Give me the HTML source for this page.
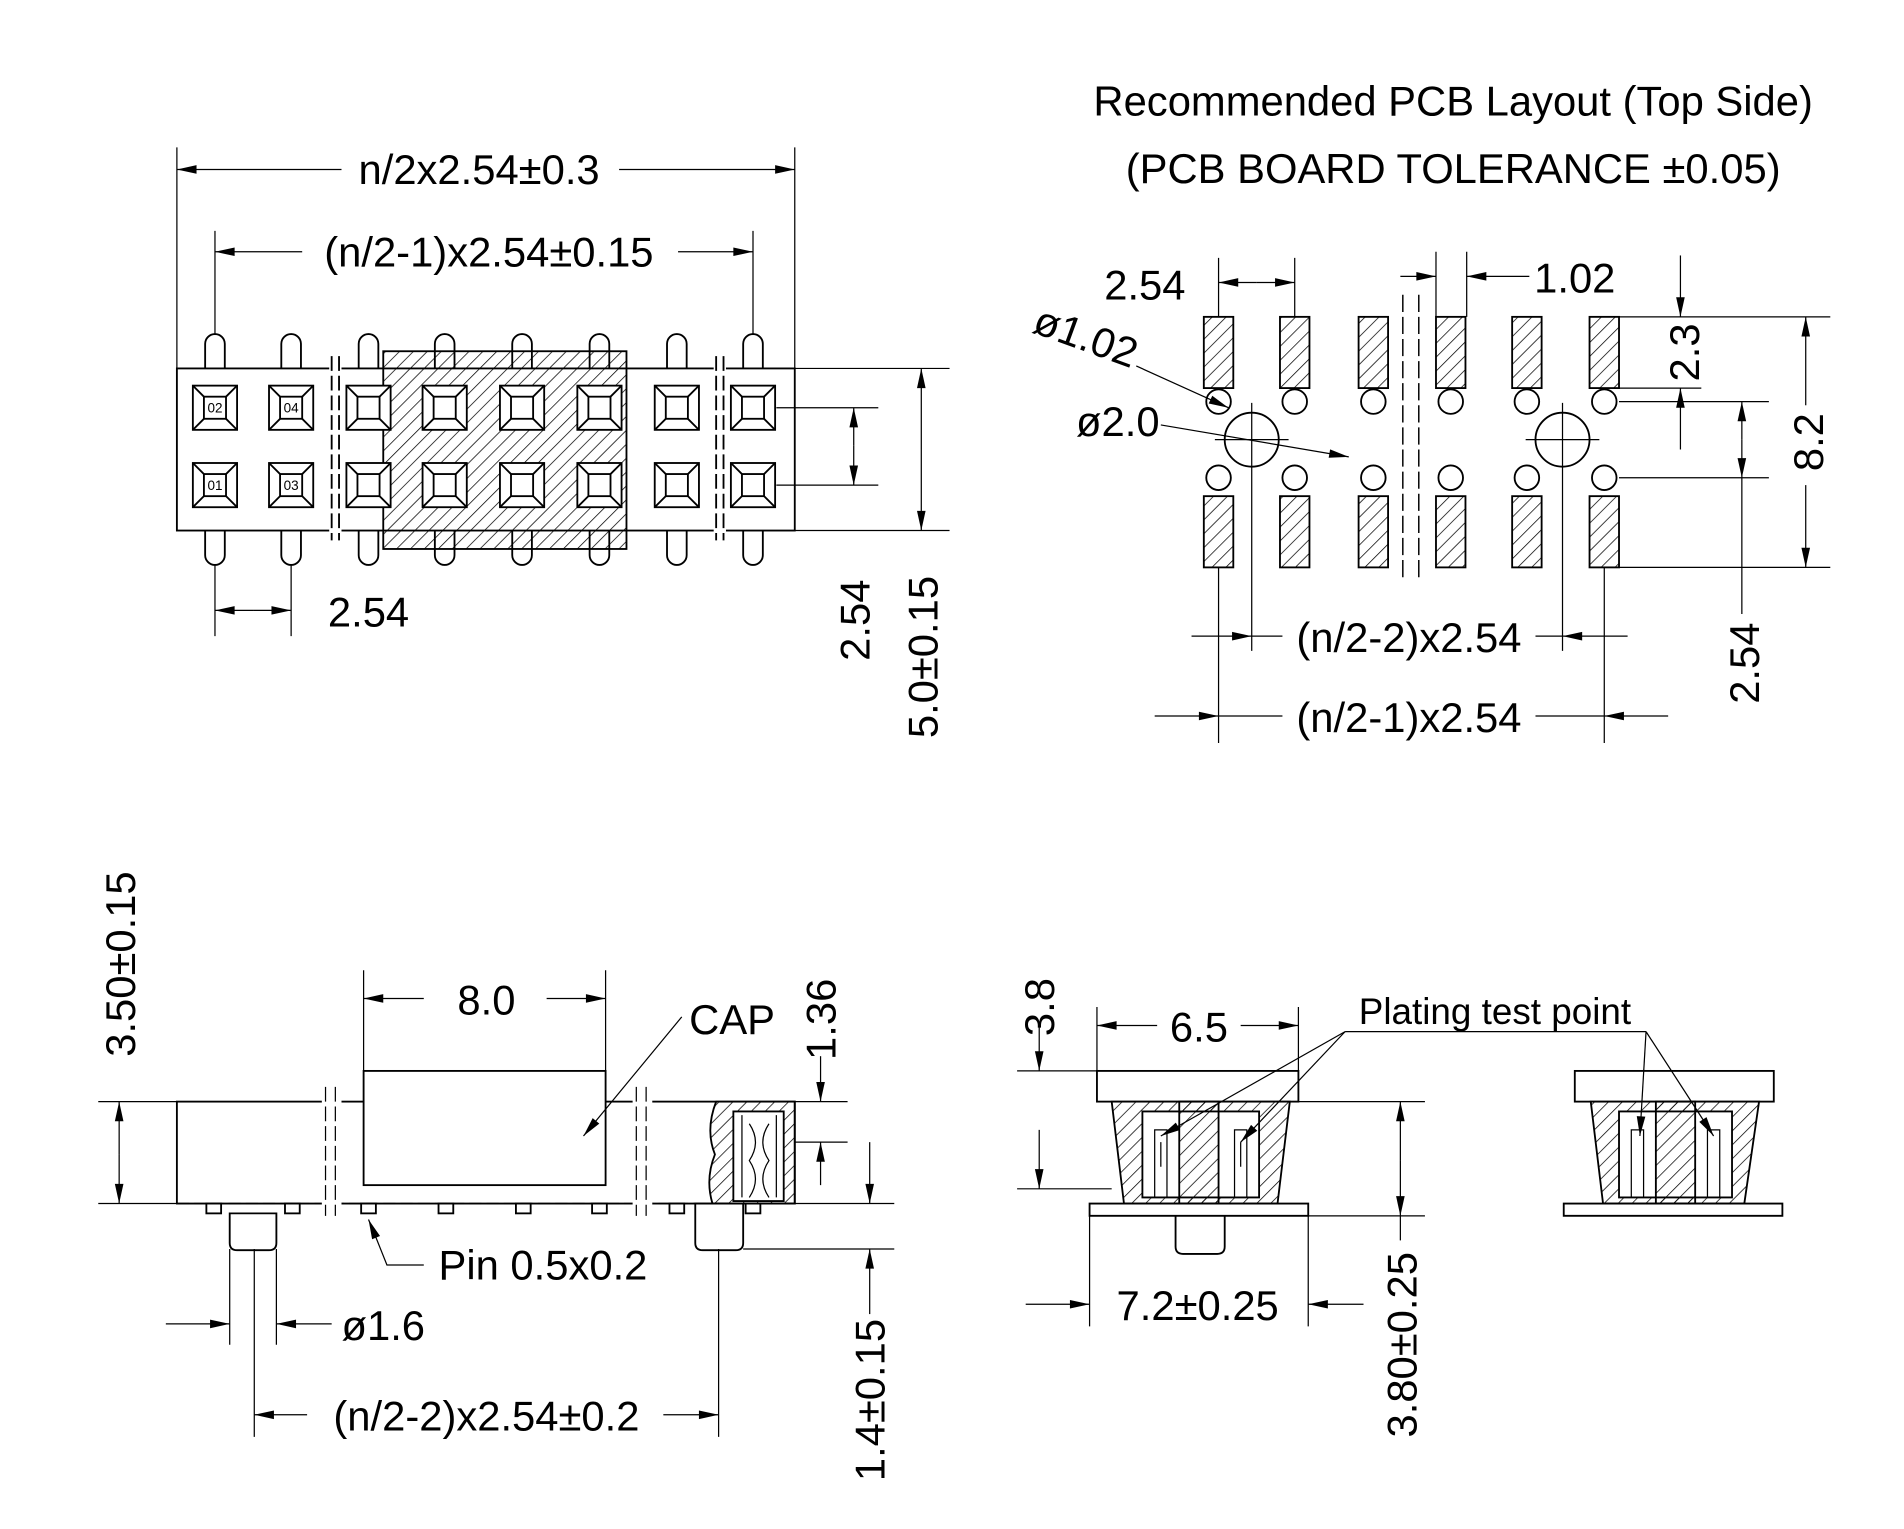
<!DOCTYPE html>
<html><head><meta charset="utf-8"><style>html,body{margin:0;padding:0;background:#fff}svg{display:block}</style></head><body>
<svg id="s" width="1904" height="1529" viewBox="0 0 1550 1245" preserveAspectRatio="none" xmlns="http://www.w3.org/2000/svg" font-family="Liberation Sans, sans-serif">
<defs>
<pattern id="h" width="8" height="8" patternUnits="userSpaceOnUse" patternTransform="rotate(45)"><line x1="0" y1="0" x2="0" y2="8" stroke="#000" stroke-width="1.2"/></pattern>
</defs>
<g stroke="#000" fill="none" stroke-width="1.5">
<!-- TOP LEFT -->
<rect x="144" y="300" width="503" height="132" fill="#fff"/>
<path d="M167,300 V280 a8,8 0 0 1 16,0 V300 M229,300 V280 a8,8 0 0 1 16,0 V300 M292,300 V280 a8,8 0 0 1 16,0 V300 M354,300 V280 a8,8 0 0 1 16,0 V300 M417,300 V280 a8,8 0 0 1 16,0 V300 M480,300 V280 a8,8 0 0 1 16,0 V300 M543,300 V280 a8,8 0 0 1 16,0 V300 M605,300 V280 a8,8 0 0 1 16,0 V300"/>
<path d="M167,432 V452 a8,8 0 0 0 16,0 V432 M229,432 V452 a8,8 0 0 0 16,0 V432 M292,432 V452 a8,8 0 0 0 16,0 V432 M354,432 V452 a8,8 0 0 0 16,0 V432 M417,432 V452 a8,8 0 0 0 16,0 V432 M480,432 V452 a8,8 0 0 0 16,0 V432 M543,432 V452 a8,8 0 0 0 16,0 V432 M605,432 V452 a8,8 0 0 0 16,0 V432"/>
<rect x="312" y="286" width="198" height="161" fill="url(#h)"/>
<g fill="#fff">
<rect x="268" y="290" width="10" height="150" stroke="none"/><rect x="581" y="290" width="10" height="150" stroke="none"/>
</g>
<path d="M270,290 V440 M276,290 V440 M583,290 V440 M589,290 V440" stroke-dasharray="12,4"/>
<g fill="#fff">
<rect x="157" y="314" width="36" height="36"/><rect x="219" y="314" width="36" height="36"/><rect x="282" y="314" width="36" height="36"/><rect x="344" y="314" width="36" height="36"/><rect x="407" y="314" width="36" height="36"/><rect x="470" y="314" width="36" height="36"/><rect x="533" y="314" width="36" height="36"/><rect x="595" y="314" width="36" height="36"/>
<rect x="157" y="377" width="36" height="36"/><rect x="219" y="377" width="36" height="36"/><rect x="282" y="377" width="36" height="36"/><rect x="344" y="377" width="36" height="36"/><rect x="407" y="377" width="36" height="36"/><rect x="470" y="377" width="36" height="36"/><rect x="533" y="377" width="36" height="36"/><rect x="595" y="377" width="36" height="36"/>
</g>
<g>
<rect x="166" y="323" width="18" height="18"/><rect x="228" y="323" width="18" height="18"/><rect x="291" y="323" width="18" height="18"/><rect x="353" y="323" width="18" height="18"/><rect x="416" y="323" width="18" height="18"/><rect x="479" y="323" width="18" height="18"/><rect x="542" y="323" width="18" height="18"/><rect x="604" y="323" width="18" height="18"/>
<rect x="166" y="386" width="18" height="18"/><rect x="228" y="386" width="18" height="18"/><rect x="291" y="386" width="18" height="18"/><rect x="353" y="386" width="18" height="18"/><rect x="416" y="386" width="18" height="18"/><rect x="479" y="386" width="18" height="18"/><rect x="542" y="386" width="18" height="18"/><rect x="604" y="386" width="18" height="18"/>
<path d="M157,314 L166,323 M193,314 L184,323 M157,350 L166,341 M193,350 L184,341 M219,314 L228,323 M255,314 L246,323 M219,350 L228,341 M255,350 L246,341 M282,314 L291,323 M318,314 L309,323 M282,350 L291,341 M318,350 L309,341 M344,314 L353,323 M380,314 L371,323 M344,350 L353,341 M380,350 L371,341 M407,314 L416,323 M443,314 L434,323 M407,350 L416,341 M443,350 L434,341 M470,314 L479,323 M506,314 L497,323 M470,350 L479,341 M506,350 L497,341 M533,314 L542,323 M569,314 L560,323 M533,350 L542,341 M569,350 L560,341 M595,314 L604,323 M631,314 L622,323 M595,350 L604,341 M631,350 L622,341"/>
<path d="M157,377 L166,386 M193,377 L184,386 M157,413 L166,404 M193,413 L184,404 M219,377 L228,386 M255,377 L246,386 M219,413 L228,404 M255,413 L246,404 M282,377 L291,386 M318,377 L309,386 M282,413 L291,404 M318,413 L309,404 M344,377 L353,386 M380,377 L371,386 M344,413 L353,404 M380,413 L371,404 M407,377 L416,386 M443,377 L434,386 M407,413 L416,404 M443,413 L434,404 M470,377 L479,386 M506,377 L497,386 M470,413 L479,404 M506,413 L497,404 M533,377 L542,386 M569,377 L560,386 M533,413 L542,404 M569,413 L560,404 M595,377 L604,386 M631,377 L622,386 M595,413 L604,404 M631,413 L622,404"/>
</g>
<path d="M144,120 V300 M647,120 V300 M175,188 V272 M613,188 V272" stroke-width="1"/>
<g stroke-width="1">
<line class="ar" x1="278" y1="138" x2="144" y2="138"/>
<line class="ar" x1="504" y1="138" x2="647" y2="138"/>
<line class="ar" x1="246" y1="205" x2="175" y2="205"/>
<line class="ar" x1="552" y1="205" x2="613" y2="205"/>
<path d="M175,460 V518 M237,460 V518"/>
<line class="ar" x1="206" y1="497" x2="175" y2="497"/>
<line class="ar" x1="206" y1="497" x2="237" y2="497"/>
<path d="M632,332 H715 M632,395 H715 M647,300 H773 M647,432 H773"/>
<line class="ar" x1="695" y1="363" x2="695" y2="332"/>
<line class="ar" x1="695" y1="363" x2="695" y2="395"/>
<line class="ar" x1="750" y1="366" x2="750" y2="300"/>
<line class="ar" x1="750" y1="366" x2="750" y2="432"/>
</g>

<!-- TOP RIGHT PCB -->
<g fill="url(#h)">
<rect x="980" y="258" width="24" height="58"/><rect x="1042" y="258" width="24" height="58"/><rect x="1106" y="258" width="24" height="58"/><rect x="1169" y="258" width="24" height="58"/><rect x="1231" y="258" width="24" height="58"/><rect x="1294" y="258" width="24" height="58"/>
<rect x="980" y="404" width="24" height="58"/><rect x="1042" y="404" width="24" height="58"/><rect x="1106" y="404" width="24" height="58"/><rect x="1169" y="404" width="24" height="58"/><rect x="1231" y="404" width="24" height="58"/><rect x="1294" y="404" width="24" height="58"/>
</g>
<g>
<circle cx="992" cy="327" r="10"/><circle cx="1054" cy="327" r="10"/><circle cx="1118" cy="327" r="10"/><circle cx="1181" cy="327" r="10"/><circle cx="1243" cy="327" r="10"/><circle cx="1306" cy="327" r="10"/>
<circle cx="992" cy="389" r="10"/><circle cx="1054" cy="389" r="10"/><circle cx="1118" cy="389" r="10"/><circle cx="1181" cy="389" r="10"/><circle cx="1243" cy="389" r="10"/><circle cx="1306" cy="389" r="10"/>
<circle cx="1019" cy="358" r="22"/><circle cx="1272" cy="358" r="22"/>
<path d="M989,358 H1049 M1019,328 V388 M1242,358 H1302 M1272,328 V388" stroke-width="1"/>
</g>
<path d="M1142,240 V470 M1155,240 V470" stroke-dasharray="14,4" stroke-width="1.2"/>
<g stroke-width="1">
<path d="M992,210 V258 M1054,210 V258 M1169,205 V258 M1194,205 V258 M1318,258 H1490 M1318,316 H1385 M1318,327 H1440 M1318,389 H1440 M1318,462 H1490 M992,462 V605 M1306,462 V605 M1019,388 V530 M1272,388 V530"/>
<line class="ar" x1="1023" y1="230" x2="992" y2="230"/>
<line class="ar" x1="1023" y1="230" x2="1054" y2="230"/>
<line class="ar" x1="1140" y1="225" x2="1169" y2="225"/>
<line class="ar" x1="1245" y1="225" x2="1194" y2="225"/>
<line class="ar" x1="1368" y1="208" x2="1368" y2="258"/>
<line class="ar" x1="1368" y1="366" x2="1368" y2="316"/>
<line class="ar" x1="1470" y1="330" x2="1470" y2="258"/>
<line class="ar" x1="1470" y1="395" x2="1470" y2="462"/>
<line class="ar" x1="1418" y1="358" x2="1418" y2="327"/>
<line class="ar" x1="1418" y1="358" x2="1418" y2="389"/>
<line x1="1418" y1="389" x2="1418" y2="500"/>
<line class="ar" x1="970" y1="518" x2="1019" y2="518"/>
<line class="ar" x1="1325" y1="518" x2="1272" y2="518"/>
<line x1="1250" y1="518" x2="1272" y2="518"/>
<line x1="1019" y1="518" x2="1044" y2="518"/>
<line class="ar" x1="940" y1="583" x2="992" y2="583"/>
<line class="ar" x1="1358" y1="583" x2="1306" y2="583"/>
<line x1="992" y1="583" x2="1044" y2="583"/>
<line x1="1250" y1="583" x2="1306" y2="583"/>
<line class="ar" x1="925" y1="298" x2="1000" y2="332"/>
<line class="ar" x1="945" y1="346" x2="1098" y2="372"/>
</g>

<!-- BOTTOM LEFT -->
<rect x="144" y="897" width="503" height="83" fill="#fff"/>
<rect x="296" y="872" width="197" height="93" fill="#fff"/>
<path d="M144,980 H647" stroke-dasharray="10,4" stroke-width="1"/>
<g fill="#fff">
<rect x="168" y="980" width="12" height="8"/><rect x="232" y="980" width="12" height="8"/><rect x="294" y="980" width="12" height="8"/><rect x="357" y="980" width="12" height="8"/><rect x="420" y="980" width="12" height="8"/><rect x="482" y="980" width="12" height="8"/><rect x="545" y="980" width="12" height="8"/><rect x="607" y="980" width="12" height="8"/>
<path d="M187,988 V1012 q0,6 6,6 H219 q6,0 6,-6 V988z"/>
<path d="M566,980 V1012 q0,6 6,6 H599 q6,0 6,-6 V980z"/>
<rect x="262" y="885" width="16" height="105" stroke="none"/><rect x="515" y="885" width="16" height="105" stroke="none"/>
</g>
<path d="M265,885 V990 M273,885 V990 M518,885 V990 M526,885 V990" stroke-dasharray="12,4" stroke-width="1"/>
<path d="M583,897 Q574,920 582,940 Q574,960 580,980 H647 V897z" fill="url(#h)"/>
<path d="M597,905 H638 V978 H597z" fill="#fff"/>
<path d="M604,908 V975 M632,908 V975 M610,915 q10,15 0,30 q10,15 0,30 M626,915 q-10,15 0,30 q-10,15 0,30" stroke-width="1"/>
<g stroke-width="1">
<path d="M296,790 V872 M493,790 V872 M80,897 H144 M80,980 H144 M647,897 H690 M647,930 H690 M605,980 H728 M605,1017 H728 M207,1017 V1170 M585,1017 V1170 M187,1017 V1095 M225,1017 V1095"/>
<line class="ar" x1="345" y1="813" x2="296" y2="813"/>
<line class="ar" x1="445" y1="813" x2="493" y2="813"/>
<line class="ar" x1="97" y1="940" x2="97" y2="897"/>
<line class="ar" x1="97" y1="940" x2="97" y2="980"/>
<line class="ar" x1="668" y1="860" x2="668" y2="897"/>
<line class="ar" x1="668" y1="965" x2="668" y2="930"/>
<line class="ar" x1="708" y1="930" x2="708" y2="980"/>
<line class="ar" x1="708" y1="1070" x2="708" y2="1017"/>
<line class="ar" x1="135" y1="1078" x2="187" y2="1078"/>
<line class="ar" x1="270" y1="1078" x2="225" y2="1078"/>
<line class="ar" x1="250" y1="1152" x2="207" y2="1152"/>
<line class="ar" x1="540" y1="1152" x2="585" y2="1152"/>
<line class="ar" x1="555" y1="828" x2="475" y2="925"/>
<path d="M345,1030 H315 L305,1005"/>
<line class="ar" x1="305" y1="1005" x2="300" y2="993"/>
</g>

<!-- BOTTOM RIGHT -->
<rect x="893" y="872" width="164" height="25" fill="#fff"/>
<path d="M887,990 V980 H1065 V990z" fill="#fff"/>
<path d="M957,990 V1015 q0,6 6,6 H991 q6,0 6,-6 V990"/>
<path d="M905,897 L915,980 H1040 L1050,897z" fill="url(#h)"/>
<path d="M930,905 H1025 V975 H930z" fill="#fff"/>
<rect x="960" y="897" width="32" height="83" fill="url(#h)"/>
<path d="M940,975 V920 h10 v55 M1005,975 V920 h10 v55 M945,930 v20 M1010,930 v20" stroke-width="1"/>
<rect x="1282" y="872" width="162" height="25" fill="#fff"/>
<path d="M1273,990 V980 H1451 V990z" fill="#fff"/>
<path d="M1295,897 L1305,980 H1420 L1432,897z" fill="url(#h)"/>
<path d="M1318,905 H1410 V975 H1318z" fill="#fff"/>
<rect x="1348" y="897" width="32" height="83" fill="url(#h)"/>
<path d="M1328,975 V920 h10 v55 M1390,975 V920 h10 v55" stroke-width="1"/>
<g stroke-width="1">
<path d="M893,820 V872 M1057,820 V872 M828,872 H893 M828,968 H905 M1057,897 H1160 M1065,990 H1160 M887,990 V1080 M1065,990 V1080"/>
<line class="ar" x1="942" y1="835" x2="893" y2="835"/>
<line class="ar" x1="1010" y1="835" x2="1057" y2="835"/>
<line class="ar" x1="846" y1="835" x2="846" y2="872"/>
<line class="ar" x1="846" y1="920" x2="846" y2="968"/>
<line class="ar" x1="1140" y1="945" x2="1140" y2="897"/>
<line class="ar" x1="1140" y1="945" x2="1140" y2="990"/>
<line x1="1140" y1="990" x2="1140" y2="1010"/>
<line class="ar" x1="835" y1="1062" x2="887" y2="1062"/>
<line class="ar" x1="1110" y1="1062" x2="1065" y2="1062"/>
<path d="M1095,840 H1340"/>
<line class="ar" x1="1095" y1="840" x2="1010" y2="930"/>
<line class="ar" x1="1095" y1="840" x2="945" y2="925"/>
<line class="ar" x1="1340" y1="840" x2="1335" y2="925"/>
<line class="ar" x1="1340" y1="840" x2="1395" y2="925"/>
</g>
</g>
<g id="arrows" fill="#000"></g>

<g fill="#000" font-size="34">
<text x="390" y="150" text-anchor="middle">n/2x2.54±0.3</text>
<text x="398" y="217" text-anchor="middle">(n/2-1)x2.54±0.15</text>
<text x="300" y="510" text-anchor="middle">2.54</text>
<text transform="translate(708,505) rotate(-90)" text-anchor="middle">2.54</text>
<text transform="translate(763,535) rotate(-90)" text-anchor="middle">5.0±0.15</text>
<text x="1183" y="94" text-anchor="middle">Recommended PCB Layout (Top Side)</text>
<text x="1183" y="149" text-anchor="middle">(PCB BOARD TOLERANCE ±0.05)</text>
<text x="932" y="244" text-anchor="middle">2.54</text>
<text x="1282" y="238" text-anchor="middle">1.02</text>
<text transform="translate(1383,287) rotate(-90)" text-anchor="middle">2.3</text>
<text transform="translate(1484,360) rotate(-90)" text-anchor="middle">8.2</text>
<text transform="translate(1432,540) rotate(-90)" text-anchor="middle">2.54</text>
<text x="1147" y="531" text-anchor="middle">(n/2-2)x2.54</text>
<text x="1147" y="596" text-anchor="middle">(n/2-1)x2.54</text>
<text transform="translate(880,285) rotate(20)" text-anchor="middle">ø1.02</text>
<text x="910" y="355" text-anchor="middle">ø2.0</text>
<text x="396" y="826" text-anchor="middle">8.0</text>
<text x="596" y="842" text-anchor="middle">CAP</text>
<text transform="translate(110,785) rotate(-90)" text-anchor="middle">3.50±0.15</text>
<text transform="translate(680,830) rotate(-90)" text-anchor="middle">1.36</text>
<text transform="translate(720,1140) rotate(-90)" text-anchor="middle">1.4±0.15</text>
<text x="442" y="1042" text-anchor="middle">Pin 0.5x0.2</text>
<text x="312" y="1091" text-anchor="middle">ø1.6</text>
<text x="396" y="1165" text-anchor="middle">(n/2-2)x2.54±0.2</text>
<text x="976" y="848" text-anchor="middle">6.5</text>
<text transform="translate(858,820) rotate(-90)" text-anchor="middle">3.8</text>
<text x="975" y="1075" text-anchor="middle">7.2±0.25</text>
<text transform="translate(1153,1095) rotate(-90)" text-anchor="middle">3.80±0.25</text>
<text x="1217" y="834" text-anchor="middle" font-size="30">Plating test point</text>
</g>
<g fill="#000" font-size="11" text-anchor="middle">
<text x="175" y="336">02</text><text x="237" y="336">04</text><text x="175" y="399">01</text><text x="237" y="399">03</text>
</g>
</svg>
<script>
(function(){
var g=document.getElementById('arrows');var ns='http://www.w3.org/2000/svg';
document.querySelectorAll('line.ar').forEach(function(l){
var x1=+l.getAttribute('x1'),y1=+l.getAttribute('y1'),x2=+l.getAttribute('x2'),y2=+l.getAttribute('y2');
var dx=x2-x1,dy=y2-y1,d=Math.hypot(dx,dy)||1;dx/=d;dy/=d;
var L=16,W=3.5,bx=x2-dx*L,by=y2-dy*L;
var p=document.createElementNS(ns,'polygon');
p.setAttribute('points',x2+','+y2+' '+(bx-dy*W)+','+(by+dx*W)+' '+(bx+dy*W)+','+(by-dx*W));
g.appendChild(p);});
})();
</script>
</body></html>
